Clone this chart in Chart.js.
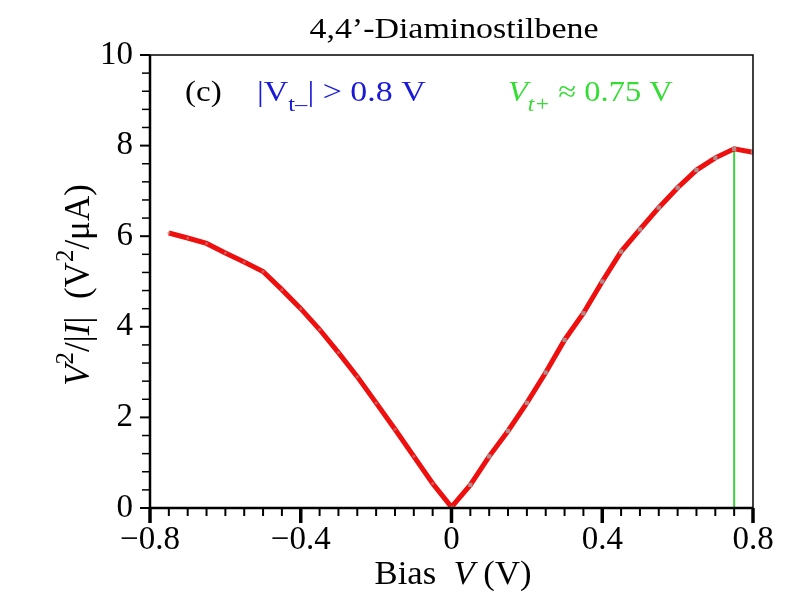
<!DOCTYPE html>
<html>
<head>
<meta charset="utf-8">
<script src="https://cdn.jsdelivr.net/npm/chart.js@4.4.1/dist/chart.umd.min.js"></script>
<style>
html,body{margin:0;padding:0;background:#fff;}
canvas{display:block;}
</style>
</head>
<body>
<canvas id="chart" width="792" height="612"></canvas>
<script>
/* DATA */

const biasNeg = [-0.75,-0.7,-0.65,-0.6,-0.55,-0.5,-0.45,-0.4,-0.35,-0.3,-0.25,-0.2,-0.15,-0.1,-0.05,0];
const valNeg  = [6.07,5.96,5.84,5.63,5.43,5.22,4.82,4.40,3.94,3.43,2.90,2.32,1.74,1.14,0.54,0.02];

const biasPos = [0,0.05,0.1,0.15,0.2,0.25,0.3,0.35,0.4,0.45,0.5,0.55,0.6,0.65,0.7,0.75,0.8];
const valPos  = [0.02,0.51,1.14,1.70,2.32,2.99,3.71,4.30,5.00,5.66,6.15,6.63,7.07,7.46,7.73,7.93,7.85];

const vtPlus = 0.75;
const vtPlusTop = 7.97;

const xTicks = [-0.8,-0.4,0,0.4,0.8];
const yTicks = [0,2,4,6,8,10];
const xMinorStep = 0.05;
const yMinorStep = 0.4;

const serif = "'Liberation Serif','DejaVu Serif',serif";

function pts(xs,ys){ return xs.map((x,i)=>({x:x,y:ys[i]})); }

function fmtX(v){
if(Math.abs(v)<1e-9) return "0";
let s = Math.abs(v).toFixed(1);
return (v<0?"\u2212":"")+s;
}

/* TEXT HELPER: draw runs of {t,font,color,dy}, stretched sideways by sx */

function drawRuns(ctx,runs,x,y,align,sx){
sx = sx||1;
let total=0;
runs.forEach(r=>{ ctx.font=r.font; total+=ctx.measureText(r.t).width; });
ctx.save();
ctx.translate(x,y);
ctx.scale(sx,1);
let cx = align==="center" ? -total/2 : 0;
runs.forEach(r=>{
ctx.font=r.font;
ctx.fillStyle=r.color||"#000";
ctx.fillText(r.t,cx,(r.dy||0));
cx+=ctx.measureText(r.t).width;
});
ctx.restore();
}

/* DECORATION PLUGIN: box, ticks, title, axis labels, notes */

const decor = {
id:"decor",
afterDraw(chart){
const ctx = chart.ctx;
const a = chart.chartArea;
const xs = chart.scales.x, ys = chart.scales.y;
ctx.save();

// frame
ctx.strokeStyle="#000";
ctx.lineWidth=1.5;
ctx.beginPath();
ctx.moveTo(a.left,a.top);ctx.lineTo(a.right,a.top);ctx.lineTo(a.right,a.bottom);
ctx.stroke();
ctx.lineWidth=2.5;
ctx.beginPath();
ctx.moveTo(a.left,a.top);ctx.lineTo(a.left,a.bottom);ctx.lineTo(a.right,a.bottom);
ctx.stroke();

// x ticks
for(let i=0;i<=32;i++){
let v=-0.8+i*xMinorStep;
let major = i%8===0;
let px=xs.getPixelForValue(v);
ctx.lineWidth= major?3.5:2;
ctx.beginPath();
ctx.moveTo(px,a.bottom);
ctx.lineTo(px,a.bottom+(major?15:8));
ctx.stroke();
}

// y ticks
for(let i=0;i<=25;i++){
let v=i*yMinorStep;
let major = i%5===0;
let py=ys.getPixelForValue(v);
ctx.lineWidth= major?2:1.5;
ctx.beginPath();
ctx.moveTo(a.left,py);
ctx.lineTo(a.left-(major?10:8),py);
ctx.stroke();
}

ctx.textBaseline="alphabetic";
ctx.textAlign="left";

// title
drawRuns(ctx,[{t:"4,4\u2019-Diaminostilbene",font:"30px "+serif}],454,38,"center",1.13);

// notes
drawRuns(ctx,[{t:"(c)",font:"29px "+serif}],185,101,"left",1.14);
drawRuns(ctx,[
{t:"|V",font:"29px "+serif,color:"#1a1ad6"},
{t:"t\u2013",font:"21px "+serif,color:"#1a1ad6",dy:10},
{t:"| > 0.8 V",font:"29px "+serif,color:"#1a1ad6"}
],257,101,"left",1.17);
drawRuns(ctx,[
{t:"V",font:"italic 29px "+serif,color:"#33dd33"},
{t:"t+",font:"italic 21px "+serif,color:"#33dd33",dy:10},
{t:" \u2248 0.75 V",font:"29px "+serif,color:"#33dd33"}
],508,101,"left",1.12);

// x title
drawRuns(ctx,[
{t:"Bias  ",font:"34px "+serif},
{t:"V",font:"italic 34px "+serif},
{t:" (V)",font:"34px "+serif}
],453,584,"center",1.02);

// y title
ctx.translate(89,285);
ctx.rotate(-Math.PI/2);
drawRuns(ctx,[
{t:"V",font:"italic 35px "+serif},
{t:"2",font:"25px "+serif,dy:-16},
{t:"/|",font:"35px "+serif},
{t:"I",font:"italic 35px "+serif},
{t:"|  (V",font:"35px "+serif},
{t:"2",font:"25px "+serif,dy:-16},
{t:"/\u03bcA)",font:"35px "+serif}
],0,0,"center");

ctx.restore();
}
};

/* CHART */

const ctx = document.getElementById("chart");

new Chart(ctx,{
type:"line",
data:{
datasets:[
{
label:"V<0",
data:pts(biasNeg,valNeg),
borderColor:"#ee0f0f",
borderWidth:5,
pointRadius:1.5,
pointBackgroundColor:"rgba(205,120,120,0.7)",
pointBorderWidth:0,
tension:0
},
{
label:"V>0",
data:pts(biasPos,valPos),
borderColor:"#ee0f0f",
borderWidth:5,
pointRadius:3,
pointStyle:"rect",
pointBackgroundColor:"#b38a8a",
pointBorderWidth:0,
tension:0
},
{
label:"Vt+",
data:[{x:vtPlus,y:0},{x:vtPlus,y:vtPlusTop}],
borderColor:"#3fcf3f",
borderWidth:2,
pointRadius:0,
tension:0
}
]
},
options:{
responsive:false,
devicePixelRatio:1,
animation:false,
layout:{padding:{top:55,right:39,left:0,bottom:0}},
plugins:{legend:{display:false},tooltip:{enabled:false}},
scales:{
x:{
type:"linear",
min:-0.8,max:0.8,
grid:{display:false,drawTicks:false},
border:{display:false},
afterBuildTicks:s=>{s.ticks=xTicks.map(v=>({value:v}));},
afterFit:s=>{s.height=104;},
ticks:{
padding:13,
color:"#000",
font:{family:serif,size:33},
maxRotation:0,
autoSkip:false,
callback:v=>fmtX(v)
}
},
y:{
type:"linear",
min:0,max:10,
grid:{display:false,drawTicks:false},
border:{display:false},
afterBuildTicks:s=>{s.ticks=yTicks.map(v=>({value:v}));},
afterFit:s=>{s.width=150;},
ticks:{
padding:17,
color:"#000",
font:{family:serif,size:33},
autoSkip:false,
callback:v=>String(v)
}
}
}
},
plugins:[decor]
});
</script>
</body>
</html>
